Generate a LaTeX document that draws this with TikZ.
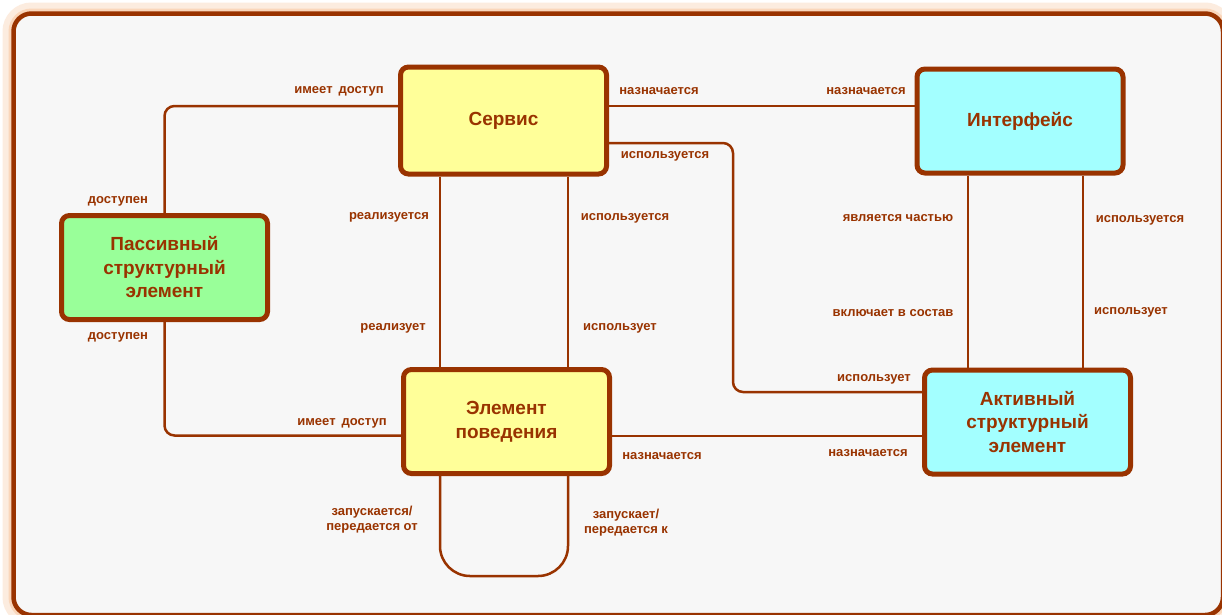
\documentclass[tikz,border=0pt]{standalone}
\usepackage{fontspec}
\setmainfont{Liberation Sans}
\usepackage{tikz}
\usetikzlibrary{calc}
\usetikzlibrary{positioning}
\definecolor{brn}{RGB}{153,51,0}
\definecolor{bgc}{RGB}{247,247,247}
\definecolor{glow}{RGB}{250,214,186}
\definecolor{yel}{RGB}{255,255,153}
\definecolor{cyn}{RGB}{163,255,255}
\definecolor{grn}{RGB}{153,255,153}
\tikzstyle{elem} = [draw=brn, line width=5pt, rounded corners=8pt, minimum width=206pt, minimum height=104pt, align=center, inner sep=0, text=brn, font=\fontsize{19}{23.5}\selectfont\bfseries]
\tikzstyle{link} = [-, draw=brn, line width=2.5pt, rounded corners=10pt]
\tikzstyle{lbl} = [draw=none, inner sep=0, align=center, text=brn, yshift=-1.5pt, font=\fontsize{13}{15}\selectfont\bfseries]

\begin{document}
\begin{tikzpicture}[x=1pt, y=-1pt]
\useasboundingbox (0,0) rectangle (1222,614);
\clip (0,0) rectangle (1222,614);
\fill [white] (0,0) rectangle (1222,614);
% frame with a soft glow
\draw [glow, line width=22pt, opacity=.45, rounded corners=18pt] (13.5,13.5) rectangle (1223,615);
\draw [glow, line width=10pt, rounded corners=18pt] (13.5,13.5) rectangle (1223,615);
\draw [brn, fill=bgc, line width=4.5pt, rounded corners=18pt] (13.5,13.5) rectangle (1223,615);

% elements
\node [elem, fill=yel, minimum height=107pt] (serv) at (503.5, 120.5) {\raisebox{-2pt}{Сервис}};
\node [elem, fill=cyn] (intf) at (1020, 121) {\raisebox{-2pt}{Интерфейс}};
\node [elem, fill=grn] (pass) at (164.5, 267.5) {Пассивный\\структурный\\элемент};
\node [elem, fill=yel] (behv) at (506.5, 421.5) {Элемент\\поведения};
\node [elem, fill=cyn] (actv) at (1027.5, 422) {Активный\\структурный\\элемент};
\coordinate (bend) at (733, 300);
\coordinate (loop) at (506.5, 576);

% relations
\draw [link] ($(serv.west)+(0,-14.5)$) -| (pass.north);
\draw [link] (pass.south) |- ($(behv.west)+(0,14)$);
\draw [link] ($(serv.east)+(0,-14.5)$) coordinate (s1) -- (s1 -| intf.west);
\draw [link] ($(serv.east)+(0,22.5)$) -| (bend) |- ($(actv.west)+(0,-30)$);
\draw [link] ($(serv.south)+(-63.5,0)$) coordinate (s2) -- (s2 |- behv.north);
\draw [link] ($(serv.south)+(64.5,0)$) coordinate (s3) -- (s3 |- behv.north);
\draw [link] ($(intf.south)+(-52,0)$) coordinate (s4) -- (s4 |- actv.north);
\draw [link] ($(intf.south)+(63,0)$) coordinate (s5) -- (s5 |- actv.north);
\draw [link] ($(behv.east)+(0,14.5)$) coordinate (s6) -- (s6 -| actv.west);
\draw [link, rounded corners=30pt] ($(behv.south)+(-66.5,0)$) |- (loop) -| ($(behv.south)+(61.5,0)$);

% labels
\node [lbl] (l1) at (339, 90) {имеет\hspace{6pt}доступ};
\node [lbl] (l2) at (118, 200) {доступен};
\node [lbl] (l3) at (118, 336) {доступен};
\node [lbl] (l4) at (342, 422) {имеет\hspace{6pt}доступ};
\node [lbl] (l5) at (659, 90) {назначается};
\node [lbl] (l6) at (866, 90) {назначается};
\node [lbl] (l7) at (665, 155) {используется};
\node [lbl] (l8) at (874, 378) {использует};
\node [lbl] (l9) at (389, 216) {реализуется};
\node [lbl] (l10) at (393, 327) {реализует};
\node [lbl] (l11) at (625, 217) {используется};
\node [lbl] (l12) at (620, 327) {использует};
\node [lbl] (l13) at (898, 217) {является частью};
\node [lbl] (l14) at (893, 312) {включает в состав};
\node [lbl] (l15) at (1140, 219) {используется};
\node [lbl] (l16) at (1131, 311) {использует};
\node [lbl] (l17) at (662, 455) {назначается};
\node [lbl] (l18) at (868, 452) {назначается};
\node [lbl] (l19) at (372, 518) {запускается/\\передается от};
\node [lbl] (l20) at (626, 521) {запускает/\\передается к};
\end{tikzpicture}
\end{document}
